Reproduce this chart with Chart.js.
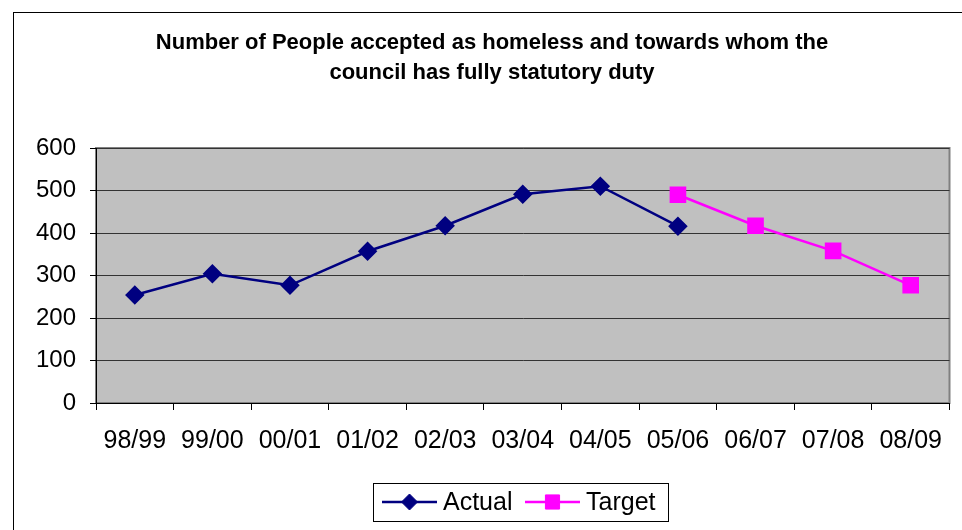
<!DOCTYPE html>
<html>
<head>
<meta charset="utf-8">
<script src="https://cdn.jsdelivr.net/npm/chart.js@4.4.1/dist/chart.umd.min.js"></script>
<style>
  html, body { margin: 0; padding: 0; background: #fff; }
  #wrap { width: 962px; height: 530px; }
</style>
</head>
<body>
<div id="wrap"><canvas id="homelessChart" width="962" height="530"></canvas></div>
<script>
// data
const years = ['98/99', '99/00', '00/01', '01/02', '02/03', '03/04', '04/05', '05/06', '06/07', '07/08', '08/09'];
const actual = [254, 304, 277, 357, 417, 491, 510, 416, null, null, null];
const target = [null, null, null, null, null, null, null, 490, 417, 358, 277];
const yTicks = [0, 100, 200, 300, 400, 500, 600];

const titleLines = ['Number of People accepted as homeless and towards whom the', 'council has fully statutory duty'];
const FONT = '"Liberation Sans", Arial, sans-serif';

// frame, grey plot area, title and the excel-style legend
const excelLook = {
    id: 'excelLook',
    beforeDraw(chart) {
        const ctx = chart.ctx;
        const a = chart.chartArea;
        ctx.save();
        ctx.fillStyle = '#fff';
        ctx.fillRect(0, 0, chart.width, chart.height);
        // outer frame (runs off the right and bottom edges)
        ctx.strokeStyle = '#000';
        ctx.lineWidth = 1;
        ctx.strokeRect(13.5, 12.5, chart.width + 20, chart.height + 20);
        // plot area
        ctx.fillStyle = '#c0c0c0';
        ctx.fillRect(a.left, a.top, a.right - a.left, a.bottom - a.top);
        ctx.strokeStyle = '#808080';
        ctx.lineWidth = 2;
        ctx.strokeRect(a.left, a.top, a.right - a.left, a.bottom - a.top);
        // title
        ctx.fillStyle = '#000';
        ctx.font = 'bold 22px ' + FONT;
        ctx.textAlign = 'center';
        ctx.textBaseline = 'middle';
        ctx.fillText(titleLines[0], 492, 43);
        ctx.fillText(titleLines[1], 492, 73);
        ctx.restore();
    },
    afterDraw(chart) {
        const ctx = chart.ctx;
        ctx.save();
        ctx.strokeStyle = '#000';
        ctx.lineWidth = 1;
        ctx.strokeRect(373.5, 483.5, 295, 38);
        const y = 502;
        const items = [
            { ds: chart.data.datasets[0], x0: 382, x1: 437, tx: 443 },
            { ds: chart.data.datasets[1], x0: 525, x1: 580, tx: 586 }
        ];
        items.forEach(it => {
            ctx.strokeStyle = it.ds.borderColor;
            ctx.lineWidth = it.ds.borderWidth;
            ctx.beginPath();
            ctx.moveTo(it.x0, y);
            ctx.lineTo(it.x1, y);
            ctx.stroke();
            ctx.fillStyle = it.ds.pointBackgroundColor;
            ctx.strokeStyle = it.ds.pointBorderColor;
            ctx.lineWidth = 1;
            Chart.helpers.drawPoint(ctx, {
                pointStyle: it.ds.pointStyle,
                radius: it.ds.pointRadius,
                rotation: 0,
                borderWidth: 1
            }, (it.x0 + it.x1) / 2, y);
            ctx.fillStyle = '#000';
            ctx.font = '25px ' + FONT;
            ctx.textAlign = 'left';
            ctx.textBaseline = 'middle';
            ctx.fillText(it.ds.label, it.tx, y + 1);
        });
        ctx.restore();
    }
};

const ctx = document.getElementById('homelessChart').getContext('2d');
new Chart(ctx, {
    type: 'line',
    data: {
        labels: years,
        datasets: [{
            label: 'Actual',
            data: actual,
            borderColor: '#000080',
            backgroundColor: '#000080',
            pointBackgroundColor: '#000080',
            pointBorderColor: '#000080',
            borderWidth: 2.5,
            pointStyle: 'rectRot',
            pointRadius: 8,
            pointHoverRadius: 8,
            tension: 0
        }, {
            label: 'Target',
            data: target,
            borderColor: '#ff00ff',
            backgroundColor: '#ff00ff',
            pointBackgroundColor: '#ff00ff',
            pointBorderColor: '#ff00ff',
            borderWidth: 2.5,
            pointStyle: 'rect',
            pointRadius: 10,
            pointHoverRadius: 10,
            tension: 0
        }]
    },
    options: {
        responsive: false,
        animation: false,
        layout: {
            padding: { left: 0, top: 148, right: 6, bottom: 77 }
        },
        plugins: {
            legend: { display: false },
            title: { display: false },
            tooltip: { enabled: false }
        },
        scales: {
            x: {
                offset: true,
                grid: {
                    offset: true,
                    drawOnChartArea: false,
                    drawTicks: true,
                    tickLength: 7,
                    color: '#000'
                },
                border: { color: '#000', width: 1 },
                ticks: {
                    color: '#000',
                    font: { family: FONT, size: 25 },
                    padding: 16,
                    maxRotation: 0,
                    autoSkip: false
                },
                afterFit(scale) { scale.height = 50; }
            },
            y: {
                min: 0,
                max: 600,
                afterBuildTicks(scale) {
                    scale.ticks = yTicks.map(v => ({ value: v }));
                },
                grid: {
                    color: '#333',
                    lineWidth: 1,
                    drawTicks: true,
                    tickLength: 6,
                    tickColor: '#000'
                },
                border: { color: '#000', width: 1 },
                ticks: {
                    color: '#000',
                    font: { family: FONT, size: 24 },
                    padding: 14
                },
                afterFit(scale) { scale.width = 96; }
            }
        }
    },
    plugins: [excelLook]
});
</script>
</body>
</html>
